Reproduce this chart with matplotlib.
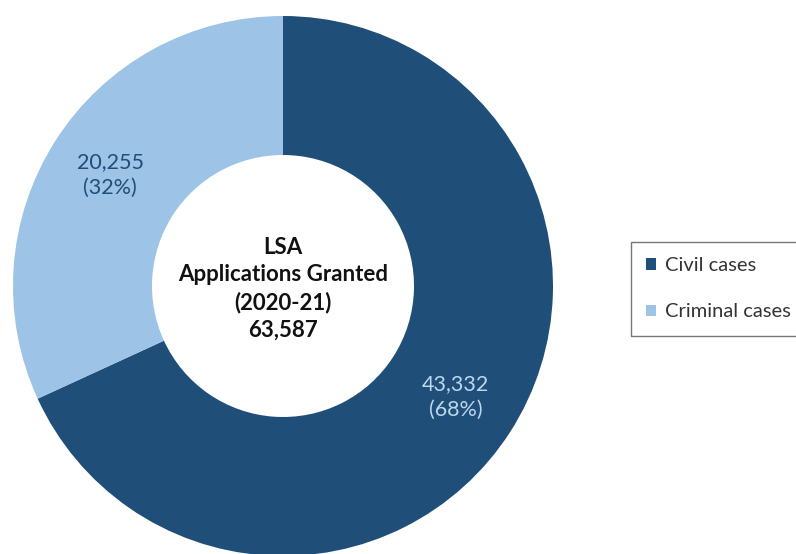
import matplotlib
matplotlib.use("Agg")
import matplotlib.pyplot as plt

categories = ["Civil cases", "Criminal cases"]
values = [43332, 20255]
total = 63587
colors = ["#1F4E79", "#9DC3E6"]
label_colors = ["#BDD7EE", "#1F4E79"]
center_title = ["LSA", "Applications Granted", "(2020-21)"]

plt.rcParams['font.family'] = ['Lato', 'DejaVu Sans']

fig = plt.figure(figsize=(7.96, 5.54), dpi=100)
ax = fig.add_axes([0, 0, 1, 1])

cx, cy, R = 283, 268, 270
hole = 131

wedges, texts, autotexts = ax.pie(
    values, colors=colors, startangle=90, counterclock=False,
    center=(cx, cy), radius=R, wedgeprops=dict(width=R - hole, linewidth=0),
    autopct=lambda p: "", pctdistance=0.76, frame=True)
ax.set_xlim(0, 796)
ax.set_ylim(0, 554)
ax.set_aspect('equal')
ax.axis('off')

for v, at, lc in zip(values, autotexts, label_colors):
    pct = v / total * 100
    at.set_text(f"{v:,}\n({pct:.0f}%)")
    at.set_color(lc)
    at.set_fontsize(15.5)
    at.set_linespacing(1.38)

ax.text(cx, cy - 3, "\n".join(center_title + [f"{total:,}"]), ha='center', va='center',
        fontsize=16, fontweight='bold', color='#111111', linespacing=1.36)

leg = fig.legend(wedges, categories, loc='upper left', bbox_to_anchor=(0.793, 0.563),
                 frameon=True, fancybox=False, fontsize=14.5, handlelength=0.5,
                 handleheight=0.5, handletextpad=0.45, labelspacing=1.45,
                 borderpad=0.75, borderaxespad=0, edgecolor='#555555')
leg.get_frame().set_linewidth(1.0)
for t in leg.get_texts():
    t.set_color('#333333')

fig.savefig("out.png", dpi=100, facecolor='white')
